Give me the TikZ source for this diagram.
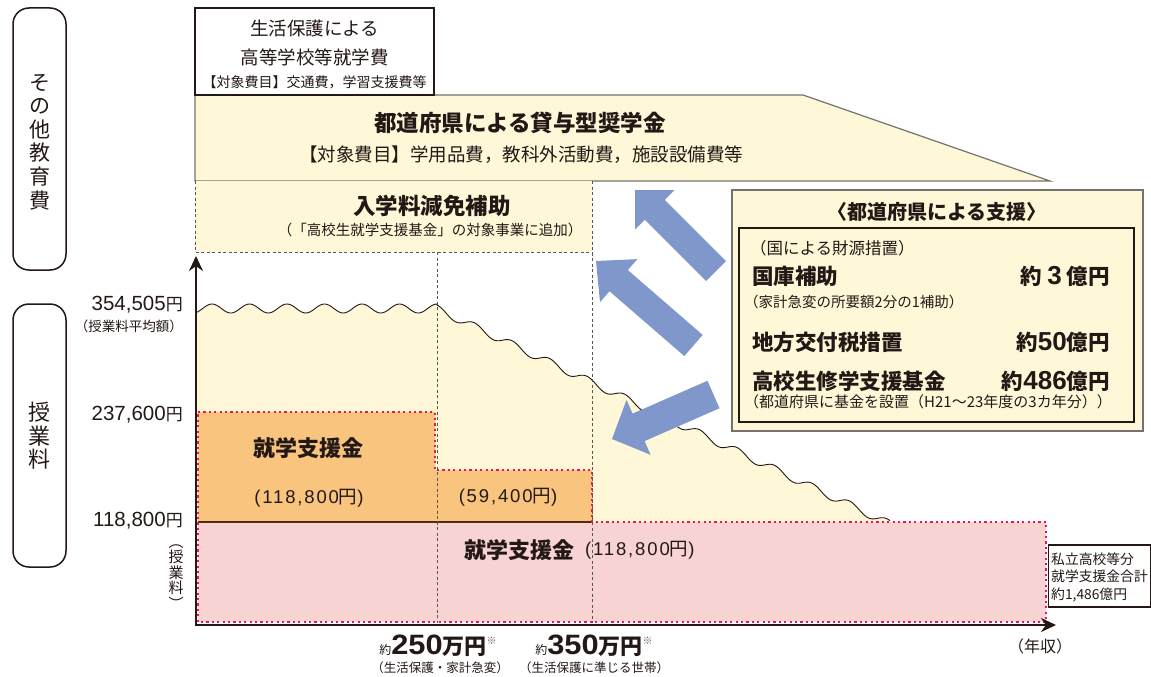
\documentclass[tikz,border=0pt]{standalone}
\usepackage{fontspec}
\setmainfont{Noto Sans CJK JP}
\newfontfamily\numf{Liberation Sans}
\newfontfamily\numfs[LetterSpace=10]{Liberation Sans}
\usetikzlibrary{calc,arrows.meta}
\definecolor{ink}{HTML}{231815}
\definecolor{cream}{HTML}{FEF8D8}
\definecolor{orng}{HTML}{F8C47E}
\definecolor{pnk}{HTML}{F8D3D3}
\definecolor{rdot}{HTML}{E4175B}
\definecolor{blu}{HTML}{7F97CB}
\definecolor{gline}{HTML}{5A5550}
\definecolor{tline}{HTML}{76716C}
\newcommand\blockarrow[5]{%
  \coordinate (ba) at ($(#2)!#5!(#1)$);
  \fill[blu] ($(#1)!#3!90:(#2)$) -- ($(ba)!#3!90:(#2)$) -- ($(ba)!#4!90:(#2)$) -- (#2)
    -- ($(ba)!#4!-90:(#2)$) -- ($(ba)!#3!-90:(#2)$) -- ($(#1)!#3!-90:(#2)$) -- cycle;}
% axis value: digits + yen
\newcommand\axval[1]{{\fontsize{20.5}{20.5}\selectfont\numf #1}{\fontsize{17}{17}\selectfont 円}}
% parenthesised amount
\newcommand\pamt[1]{{\numfs (#1}円{\numfs )}}
% big bold amount in support box
\newcommand\bamt[1]{約{\fontsize{26}{26}\selectfont\numf\bfseries #1}億円}
% income threshold
\newcommand\inc[1]{{\fontsize{12}{12}\selectfont 約}{\fontsize{28}{28}\selectfont\numf\bfseries\scalebox{1.1}[1]{#1}}{\fontsize{22}{22}\selectfont\bfseries 万円}\raisebox{10pt}{\fontsize{10}{10}\selectfont\color{ink!70}※}}
\tikzset{
  txt/.style={inner sep=0pt, text=ink},
  fs/.style={font=\fontsize{#1}{#1}\selectfont},
  fb/.style={font=\fontsize{#1}{#1}\selectfont\bfseries},
  gdash/.style={draw=gline, line width=0.9pt, dash pattern=on 3pt off 2.5pt},
  rdotted/.style={draw=rdot, line width=2.2pt, dash pattern=on 2.2pt off 3.2pt},
  rbox/.style={draw=ink, line width=1.5pt, rounded corners=16pt},
  wave/.style={draw=ink, line width=0.9pt},
}
\begin{document}
\begin{tikzpicture}[x=1pt,y=-1pt]
\useasboundingbox (0,0) rectangle (1151,677);
% ---------- chart fills
\fill[cream] (196,522) -- (196,312.5)
  -- plot[domain=196:437,samples=150] (\x,{308.5-4.5*cos((\x-437)*9.6)})
  -- plot[domain=437:890,samples=300] (\x,{309+0.475*(\x-437)-4*cos((\x-437)*9.6)})
  -- (890,522) -- cycle;
\fill[pnk] (198,522) rectangle (1046,622);
\fill[orng] (198,412) -- (435,412) -- (435,470) -- (592,470) -- (592,522) -- (198,522) -- cycle;
\draw[draw=ink!80!orange, line width=1.1pt] (198,522) -- (592,522);
\draw[rdotted] (198,412) -- (435,412) -- (435,470) -- (592,470) -- (592,522) -- (1046,522) -- (1046,622) -- (198,622) -- cycle;
% wave
\draw[wave] plot[domain=196:437,samples=150] (\x,{308.5-4.5*cos((\x-437)*9.6)})
  -- plot[domain=437:890,samples=300] (\x,{309+0.475*(\x-437)-4*cos((\x-437)*9.6)});
% ---------- upper boxes
\draw[fill=cream, draw=tline, line width=1.2pt] (195,95) -- (803,95) -- (1050,181) -- (195,181) -- cycle;
\fill[cream] (195,181) rectangle (592,252);
\draw[gdash] (195,181) -- (195,252) -- (592,252);
\draw[gdash] (592,181) -- (592,623);
\draw[gdash] (437,252) -- (437,623);
\node[draw=ink, line width=1.2pt, minimum width=239pt, minimum height=87pt, inner sep=0pt] (seiho) at (314.5,51.5) {};
% ---------- axes
\coordinate (org) at (196,625);
\coordinate (ytop) at (196,256);
\coordinate (xend) at (1056,625);
\draw[draw=ink, line width=2.2pt, {Stealth[width=14pt,length=15pt]}-{Stealth[width=14pt,length=15pt]}] (ytop) -- (org) -- (xend);
% ---------- left boxes
\draw[rbox] (13,8) rectangle (66,270);
\draw[rbox] (13,304) rectangle (66,567);
\node[txt, align=center, font=\fontsize{21}{23.6}\selectfont] (oth) at (40,142) {そ\\の\\他\\教\\育\\費};
\node[txt, align=center, font=\fontsize{22}{23.5}\selectfont] (jyu) at (39,436) {授\\業\\料};
\node[txt, align=center, font=\fontsize{15}{15.5}\selectfont] (jyup) at (176,577) {︵\\授\\業\\料\\︶};
% ---------- axis labels
\node[txt, anchor=east] (v1) at (183,305) {\axval{354,505}};
\node[txt, fs=13.5, anchor=east] (v1s) at (183,326) {（授業料平均額）};
\node[txt, anchor=east] (v2) at (183,415) {\axval{237,600}};
\node[txt, anchor=east] (v3) at (183,521) {\axval{118,800}};
% ---------- texts in boxes
\node[txt, fs=18.5] (s1) at (314.5,28) {生活保護による};
\node[txt, fs=18.5] (s2) at (314.5,57) {高等学校等就学費};
\node[txt, fs=14] (s3) at (314.5,82) {【対象費目】交通費，学習支援費等};
\node[txt, fb=22.5] (tr1) at (520,123) {都道府県による貸与型奨学金};
\node[txt, fs=18.5] (tr2) at (521,155) {【対象費目】学用品費，教科外活動費，施設設備費等};
\node[txt, fb=22.5] (ny1) at (432,206) {入学料減免補助};
\node[txt, fs=14.5] (ny2) at (430,230) {（「高校生就学支援基金」の対象事業に追加）};
\node[txt, fb=22] (sh1) at (308,448) {就学支援金};
\node[txt, fs=18.5] (sh1v) at (309,498) {\pamt{118,800}};
\node[txt, fs=18.5] (sh2v) at (508,497) {\pamt{59,400}};
\node[txt, fb=22] (sh3) at (519,550) {就学支援金};
\node[txt, fs=18.5, anchor=west] (sh3v) at (585,550) {\pamt{118,800}};
% private total box
\node[draw=ink, line width=1.2pt, fill=white, minimum width=102pt, minimum height=62pt, inner sep=0pt] (tot) at (1099.5,576) {};
\node[txt, align=left, anchor=west, font=\fontsize{13.8}{17.5}\selectfont] (totx) at (1051,577) {私立高校等分\\就学支援金合計\\約1,486億円};
% bottom labels
\node[txt] (i250) at (438,646) {\inc{250}};
\node[txt, fs=12.5] (i250s) at (440,668) {（生活保護・家計急変）};
\node[txt] (i350) at (594,646) {\inc{350}};
\node[txt, fs=12.5] (i350s) at (594,668) {（生活保護に準じる世帯）};
\node[txt, fs=16] (nen) at (1040,646) {（年収）};
% ---------- support box
\node[draw=tline, fill=cream, line width=1.2pt, minimum width=411pt, minimum height=241pt, inner sep=0pt] (sup) at (937.5,310.5) {};
\node[draw=ink, line width=1.6pt, minimum width=395pt, minimum height=194pt, inner sep=0pt] (supin) at (936.5,325) {};
\node[txt, fb=20] (supt) at (937,212) {〈都道府県による支援〉};
\node[txt, fs=16.5, anchor=west] (kuni) at (750,248) {（国による財源措置）};
\node[txt, fb=21.5, anchor=west] (r1) at (752,276) {国庫補助};
\node[txt, fb=21.5, anchor=east] (r1v) at (1110,276) {約\hspace{5pt}{\fontsize{26}{26}\selectfont\numf\bfseries 3}\hspace{5pt}億円};
\node[txt, fs=14.5, anchor=west] (r1s) at (744,302) {（家計急変の所要額2分の1補助）};
\node[txt, fb=21.5, anchor=west] (r2) at (752,342) {地方交付税措置};
\node[txt, fb=21.5, anchor=east] (r2v) at (1110,342) {\bamt{50}};
\node[txt, fb=21.5, anchor=west] (r3) at (752,381) {高校生修学支援基金};
\node[txt, fb=21.5, anchor=east] (r3v) at (1110,381) {\bamt{486}};
\node[txt, fs=15, anchor=west] (r3s) at (744,402) {（都道府県に基金を設置（H21～23年度の3カ年分））};
% ---------- blue arrows
\coordinate (a1t) at (716,271);  \coordinate (a1h) at (635,190);
\coordinate (a2t) at (693.5,345.5); \coordinate (a2h) at (596,261);
\coordinate (a3t) at (713.5,394.5); \coordinate (a3h) at (612,439);
\blockarrow{a1t}{a1h}{14pt}{28pt}{28pt}
\blockarrow{a2t}{a2h}{14pt}{28.5pt}{30pt}
\blockarrow{a3t}{a3h}{15pt}{30pt}{29pt}
\end{tikzpicture}
\end{document}
